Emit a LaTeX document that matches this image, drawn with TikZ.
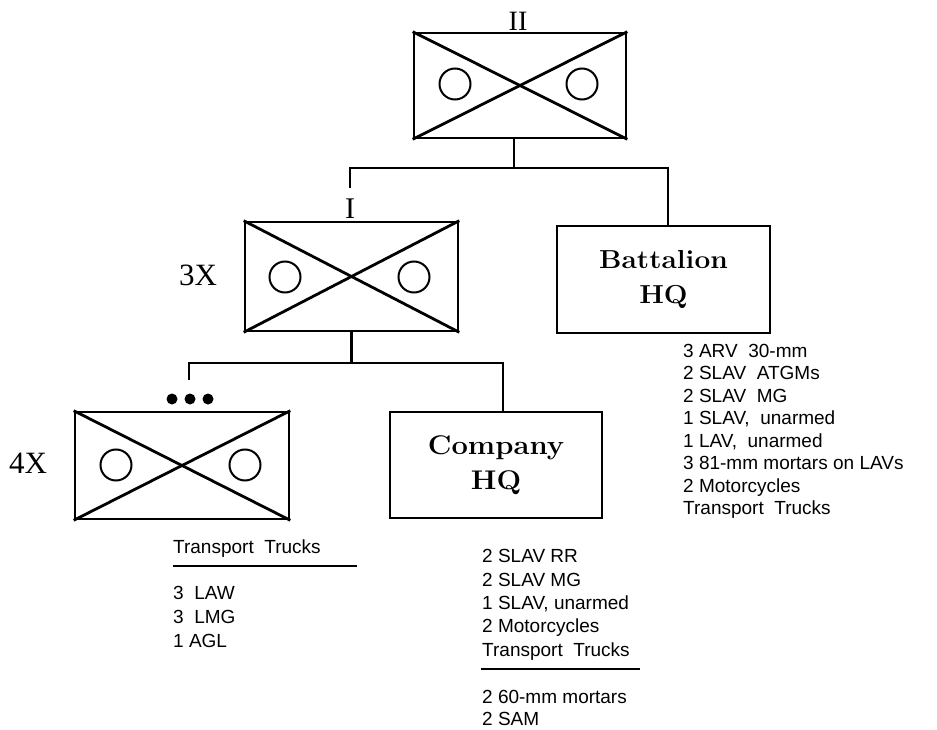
\documentclass[tikz,border=0pt]{standalone}
\usepackage{fontspec}
\newfontfamily\listfont{Liberation Sans}
\newfontfamily\echfont{Liberation Serif}
\newfontfamily\hqfont[FakeStretch=1.08]{Latin Modern Roman}
\begin{document}
\begin{tikzpicture}[x=1pt,y=-1pt,
  unitbox/.style={draw, line width=2.6pt, inner sep=0pt, minimum width=#1},
  unitbox/.default=213pt,
  xline/.style={line width=2.8pt},
  ring/.style={circle, draw, line width=2pt, minimum size=31pt, inner sep=0pt},
  dotmark/.style={circle, fill, minimum size=11pt, inner sep=0pt},
  conn/.style={line width=2.2pt},
  rule/.style={line width=2pt},
  listtxt/.style={font=\listfont\fontsize{19}{22}\selectfont, anchor=base west, inner sep=0pt},
  hqtxt/.style={font=\hqfont\bfseries\fontsize{26}{35}\selectfont, align=center},
  echelon/.style={font=\echfont\fontsize{28}{28}\selectfont, inner sep=0pt},
  mult/.style={font=\echfont\fontsize{31}{31}\selectfont, inner sep=0pt}
]
\useasboundingbox (0,0) rectangle (937,730);

% ---------- top (battalion) unit ----------
\node[unitbox=212pt, minimum height=105pt] (top) at (520,85.5) {};
\draw[xline] (top.north west) -- (top.south east);
\draw[xline] (top.south west) -- (top.north east);
\node[ring] (topl) at (455,84) {};
\node[ring] (topr) at (582,84) {};
\node[echelon] (lblII) at (518,21) {II};

% ---------- middle (company) unit ----------
\node[unitbox=213pt, minimum height=109pt] (mid) at (351.5,276.5) {};
\draw[xline] (mid.north west) -- (mid.south east);
\draw[xline] (mid.south west) -- (mid.north east);
\node[ring] (midl) at (285,277) {};
\node[ring] (midr) at (414,277) {};
\node[echelon, font=\echfont\fontsize{30}{30}\selectfont] (lblI) at (350,209) {I};
\node[mult] (lbl3x) at (198,275) {3X};

% ---------- battalion HQ ----------
\node[unitbox=213pt, minimum height=107pt, hqtxt] (bn) at (663.5,279.5) {Battalion\\HQ};

% ---------- bottom-left (platoon) unit ----------
\node[unitbox=214pt, minimum height=107pt] (plt) at (182,465.5) {};
\draw[xline] (plt.north west) -- (plt.south east);
\draw[xline] (plt.south west) -- (plt.north east);
\node[ring] (pltl) at (116,465) {};
\node[ring] (pltr) at (245,465) {};
\node[dotmark] (d1) at (172,399) {};
\node[dotmark] (d2) at (190,399) {};
\node[dotmark] (d3) at (208,399) {};
\node[mult] (lbl4x) at (28,463) {4X};

% ---------- company HQ ----------
\node[unitbox=212pt, minimum height=106pt, hqtxt, font=\hqfont\bfseries\fontsize{27}{35}\selectfont] (co) at (496,465) {Company\\HQ};

% ---------- connectors ----------
\coordinate (j1) at (514,168);
\coordinate (j1r) at (668,168);
\coordinate (c1) at (350,188);
\draw[conn] (j1) -- (j1 |- top.south);
\draw[conn] (c1) |- (j1r) -- (j1r |- bn.north);

\coordinate (j2) at (351.5,363);
\coordinate (j2r) at (503,363);
\coordinate (c2) at (189,380);
\draw[conn] (mid.south) -- (j2);
\draw[conn] (c2) |- (j2r) -- (j2r |- co.north);

% ---------- battalion HQ list ----------
\node[listtxt] (b1) at (683,357)   {3 ARV\ \ 30-mm};
\node[listtxt] (b2) at (683,379.5) {2 SLAV\ \ ATGMs};
\node[listtxt] (b3) at (683,402)   {2 SLAV\ \ MG};
\node[listtxt] (b4) at (683,424.5) {1 SLAV,\ \ unarmed};
\node[listtxt] (b5) at (683,447)   {1 LAV,\ \ unarmed};
\node[listtxt] (b6) at (683,469.5) {3 81-mm mortars on LAVs};
\node[listtxt] (b7) at (683,492)   {2 Motorcycles};
\node[listtxt] (b8) at (683,514.5) {Transport\ \ Trucks};

% ---------- platoon list ----------
\node[listtxt] (p1) at (173,553) {Transport\ \ Trucks};
\coordinate (pr1) at (173,566);
\coordinate (pr2) at (357,566);
\draw[rule] (pr1) -- (pr2);
\node[listtxt] (p2) at (173,599) {3\ \ LAW};
\node[listtxt] (p3) at (173,623) {3\ \ LMG};
\node[listtxt] (p4) at (173,647) {1 AGL};

% ---------- company HQ list ----------
\node[listtxt] (k1) at (482,562) {2 SLAV RR};
\node[listtxt] (k2) at (482,586) {2 SLAV MG};
\node[listtxt] (k3) at (482,609) {1 SLAV, unarmed};
\node[listtxt] (k4) at (482,632) {2 Motorcycles};
\node[listtxt] (k5) at (482,656) {Transport\ \ Trucks};
\coordinate (kr1) at (481,669);
\coordinate (kr2) at (640,669);
\draw[rule] (kr1) -- (kr2);
\node[listtxt] (k6) at (482,703) {2 60-mm mortars};
\node[listtxt] (k7) at (482,725) {2 SAM};
\end{tikzpicture}
\end{document}
